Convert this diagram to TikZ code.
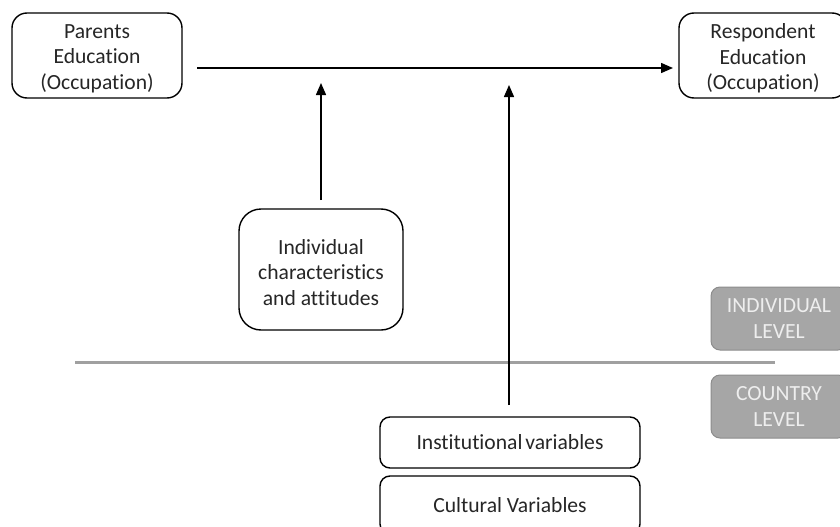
\documentclass[tikz,border=0pt]{standalone}
\usepackage{fontspec}
\setmainfont{Carlito}[Ligatures=NoCommon]
\usetikzlibrary{arrows.meta}
\definecolor{levelfill}{HTML}{A6A6A6}
\definecolor{leveldraw}{HTML}{8C8C8C}
\definecolor{leveltext}{HTML}{EEEEEE}
\definecolor{divider}{HTML}{A0A0A0}
\definecolor{bodytext}{HTML}{262626}
\begin{document}
\begin{tikzpicture}[x=1pt,y=-1pt,
  every node/.style={font=\fontsize{21.6}{25.5}\selectfont, align=center, inner sep=0pt},
  box/.style={draw=black, line width=1.4pt, fill=white, text=bodytext},
  boxtext/.style={label={[text=bodytext, yshift=-3pt]center:#1}},
  levelbox/.style={draw=leveldraw, line width=1pt, fill=levelfill, text=leveltext, rounded corners=9pt},
  link/.style={line width=1.4pt, -{Triangle[length=12pt,width=10pt]}}]
\useasboundingbox (0,0) rectangle (840,527);

% individual-level boxes
\node[box, rounded corners=15pt, minimum width=170pt, minimum height=85pt,
  boxtext={Parents\\Education\\(Occupation)}] (parents) at (97,55.5) {};
\node[box, rounded corners=15pt, minimum width=168pt, minimum height=85pt,
  boxtext={Respondent\\Education\\(Occupation)}] (resp) at (763,55.5) {};
\node[box, rounded corners=22pt, minimum width=164pt, minimum height=121pt,
  boxtext={Individual\\characteristics\\and attitudes}] (indiv) at (321,269.5) {};

% country-level boxes
\node[box, rounded corners=10pt, minimum width=260pt, minimum height=51pt] (inst) at (510,442.5)
  {Institutional\hspace{-2pt} variables};
\node[box, rounded corners=10pt, minimum width=260pt, minimum height=58pt] (cult) at (510,505)
  {Cultural Variables};

% level labels
\node[levelbox, minimum width=136pt, minimum height=63pt] (lvlind) at (779,318.5)
  {INDIVIDUAL\\LEVEL};
\node[levelbox, minimum width=136pt, minimum height=63pt] (lvlcty) at (779,406.5)
  {COUNTRY\\LEVEL};

% divider between the two levels
\coordinate (divL) at (75,362);
\coordinate (divR) at (775,362);
\draw[divider, line width=3pt] (divL) -- (divR);

% connectors
\coordinate (pStart) at (197,68);
\coordinate (pEnd) at (673,68);
\draw[link] (pStart) -- (pEnd);

\coordinate (iStart) at (321,200);
\coordinate (iEnd) at (321,83);
\draw[link] (iStart) -- (iEnd);

\coordinate (cStart) at (509,405);
\coordinate (cEnd) at (509,85);
\draw[link] (cStart) -- (cEnd);
\end{tikzpicture}
\end{document}
